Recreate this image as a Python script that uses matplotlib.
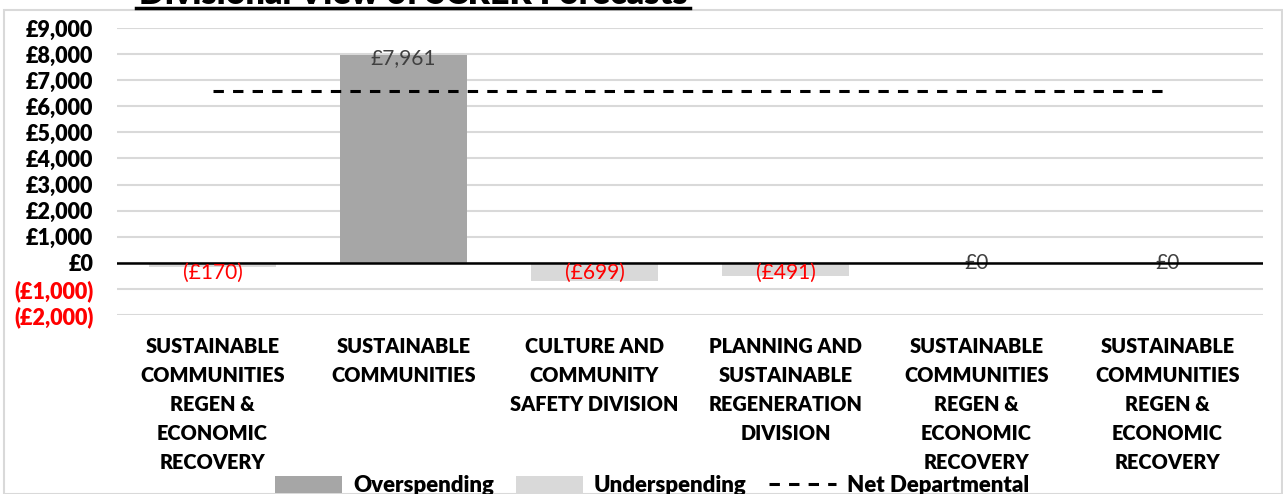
import matplotlib
matplotlib.use("Agg")
import matplotlib.pyplot as plt
from matplotlib.patches import Rectangle, Patch
from matplotlib.lines import Line2D

plt.rcParams['font.family'] = ['Lato', 'DejaVu Sans']

categories = [
    "SUSTAINABLE\nCOMMUNITIES\nREGEN &\nECONOMIC\nRECOVERY",
    "SUSTAINABLE\nCOMMUNITIES",
    "CULTURE AND\nCOMMUNITY\nSAFETY DIVISION",
    "PLANNING AND\nSUSTAINABLE\nREGENERATION\nDIVISION",
    "SUSTAINABLE\nCOMMUNITIES\nREGEN &\nECONOMIC\nRECOVERY",
    "SUSTAINABLE\nCOMMUNITIES\nREGEN &\nECONOMIC\nRECOVERY",
]
forecast = [-170, 7961, -699, -491, 0, 0]
overspending = [v if v > 0 else 0 for v in forecast]
underspending = [v if v < 0 else 0 for v in forecast]
net_departmental = sum(forecast)
yticks = [-2000, -1000, 0, 1000, 2000, 3000, 4000, 5000, 6000, 7000, 8000, 9000]

BOLD = 'heavy'
DASH = (0, (3.4, 3))


def money(v):
    if v < 0:
        return f"(£{abs(v):,.0f})"
    return f"£{v:,.0f}"


fig = plt.figure(figsize=(12.83, 4.94), dpi=100)
W, H = 1283, 494
ax = fig.add_axes([117 / W, 1 - 315 / H, (1263 - 117) / W, (315 - 28) / H])

x = list(range(len(categories)))
ax.bar(x, overspending, width=0.67, color='#a6a6a6', zorder=2)
ax.bar(x, underspending, width=0.67, color='#d9d9d9', zorder=2)
ax.plot([x[0], x[-1]], [net_departmental] * 2, color='black', lw=2.2,
        linestyle=DASH, zorder=3)
ax.axhline(0, color='black', lw=1.8, zorder=3)

for xi, v in zip(x, forecast):
    if v > 0:
        ax.text(xi, v - 130, money(v), ha='center', va='center',
                fontsize=15, color='#404040', zorder=4)
    elif v < 0:
        ax.text(xi, -20, money(v), ha='center', va='top',
                fontsize=15, color='red', zorder=4)
    else:
        ax.text(xi, 0, money(v), ha='center', va='center',
                fontsize=15, color='#404040', zorder=2)

ax.set_xlim(-0.5, len(categories) - 0.5)
ax.set_ylim(-2000, 9000)
ax.set_yticks(yticks)
ax.set_yticklabels([money(v) for v in yticks], fontweight=BOLD, fontsize=15.5)
for lbl, v in zip(ax.get_yticklabels(), yticks):
    lbl.set_color('red' if v < 0 else 'black')
ax.yaxis.grid(True, color='#d9d9d9', lw=1.5, zorder=0)
ax.tick_params(axis='y', length=0, pad=17)
ax.tick_params(axis='x', length=0, pad=16)
ax.set_xticks(x)
ax.set_xticklabels(categories, fontweight=BOLD, fontsize=14.3, linespacing=1.62)
for s in ax.spines.values():
    s.set_visible(False)

# outer chart frame
fig.patches.append(Rectangle((4 / W, 0), 1 - 4 / W - 0.0005, 1 - 10 / H,
                             transform=fig.transFigure, fill=False,
                             edgecolor='#d9d9d9', lw=1.5))

# clipped, underlined title
fig.text(413 / W, 1 - 4 / H, "Divisional View of SCRER Forecasts",
         ha='center', va='baseline', fontsize=24.5, fontweight=BOLD)
fig.lines.append(Line2D([136 / W, 690 / W], [1 - 8 / H] * 2,
                        transform=fig.transFigure, color='black', lw=2.5))

handles = [
    Patch(facecolor='#a6a6a6', label='Overspending'),
    Patch(facecolor='#d9d9d9', label='Underspending'),
    Line2D([], [], color='black', lw=2.2, linestyle=DASH, label='Net Departmental'),
]
leg = fig.legend(handles=handles, loc='lower center', bbox_to_anchor=(652 / W, -0.045),
                 ncol=3, frameon=False, handlelength=3.0, handleheight=0.8,
                 columnspacing=1.0, handletextpad=0.5,
                 prop={'weight': BOLD, 'size': 16})

fig.savefig("out.png", dpi=100)
